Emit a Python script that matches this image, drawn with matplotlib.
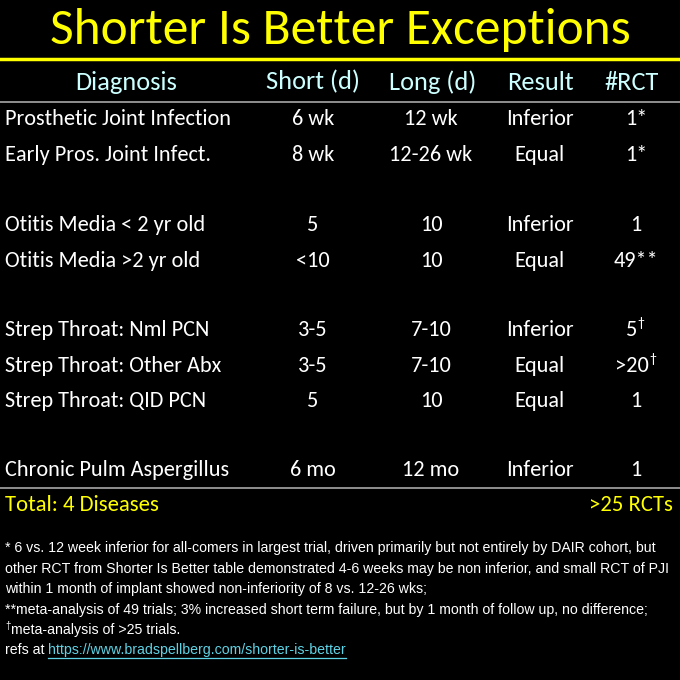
import matplotlib
matplotlib.use("Agg")
import matplotlib.pyplot as plt
from matplotlib import font_manager as fm

title = "Shorter Is Better Exceptions"
headers = ["Diagnosis", "Short (d)", "Long (d)", "Result", "#RCT"]
diagnoses = ["Prosthetic Joint Infection", "Early Pros. Joint Infect.", "",
             "Otitis Media < 2 yr old", "Otitis Media >2 yr old", "",
             "Strep Throat: Nml PCN", "Strep Throat: Other Abx", "Strep Throat: QID PCN", "",
             "Chronic Pulm Aspergillus"]
short_d = ["6 wk", "8 wk", "", "5", "<10", "", "3-5", "3-5", "5", "", "6 mo"]
long_d = ["12 wk", "12-26 wk", "", "10", "10", "", "7-10", "7-10", "10", "", "12 mo"]
result = ["Inferior", "Equal", "", "Inferior", "Equal", "", "Inferior", "Equal", "Equal", "", "Inferior"]
rct = ["1*", "1*", "", "1", "49**", "", "5", ">20", "1", "", "1"]
rct_sup = ["", "", "", "", "", "", "†", "†", "", "", ""]
total_left = "Total: 4 Diseases"
total_right = ">25 RCTs"
footnotes = [
    ("", "* 6 vs. 12 week inferior for all-comers in largest trial, driven primarily but not entirely by DAIR cohort, but"),
    ("", "other RCT from Shorter Is Better table demonstrated 4-6 weeks may be non inferior, and small RCT of PJI"),
    ("", "within 1 month of implant showed non-inferiority of 8 vs. 12-26 wks;"),
    ("", "**meta-analysis of 49 trials; 3% increased short term failure, but by 1 month of follow up, no difference;"),
    ("†", "meta-analysis of >25 trials."),
]
refs_prefix = "refs at "
refs_link = "https://www.bradspellberg.com/shorter-is-better"

avail = {f.name for f in fm.fontManager.ttflist}
def pick(*names):
    for n in names:
        if n in avail:
            return n
    return "DejaVu Sans"
MAIN = pick("Carlito", "Lato", "Open Sans")
NARROW = pick("Liberation Sans Narrow", "DejaVu Sans Condensed", "Liberation Sans")

W = H = 680
fig = plt.figure(figsize=(6.8, 6.8), dpi=100, facecolor="black")
ax = fig.add_axes([0, 0, 1, 1])
ax.set_xlim(0, W)
ax.set_ylim(H, 0)
ax.axis("off")
ax.set_facecolor("black")

YEL = "#FFFF00"
CYAN = "#CCFFFF"
GRAY = "#A8A8A8"

ax.text(340, 30, title, color=YEL, fontsize=37, family=MAIN, ha="center", va="center")
ax.plot([0, W], [59, 59], color=YEL, lw=2.5)

col_x = [126, 313, 433, 540, 632]
for x, h in zip(col_x, headers):
    ax.text(x, 82, h, color=CYAN, fontsize=19, family=MAIN, ha="center", va="center")
ax.plot([0, W], [101.5, 101.5], color=GRAY, lw=1.2)

row_x = [313, 431, 540, 636]
row_y = [119, 155, 190, 225, 261, 296, 330, 366, 401, 436, 470]
fs = 16
for i, y in enumerate(row_y):
    if not diagnoses[i]:
        continue
    ax.text(5, y, diagnoses[i], color="white", fontsize=fs, family=MAIN, ha="left", va="center")
    ax.text(row_x[0], y, short_d[i], color="white", fontsize=fs, family=MAIN, ha="center", va="center")
    ax.text(row_x[1], y, long_d[i], color="white", fontsize=fs, family=MAIN, ha="center", va="center")
    ax.text(row_x[2], y, result[i], color="white", fontsize=fs, family=MAIN, ha="center", va="center")
    if rct_sup[i]:
        t = ax.text(row_x[3] - 4, y, rct[i], color="white", fontsize=fs, family=MAIN, ha="center", va="center")
        fig.canvas.draw()
        bb = t.get_window_extent()
        ax.text(bb.x1, y - 7, rct_sup[i], color="white", fontsize=10, family=MAIN, ha="left", va="center")
    else:
        ax.text(row_x[3], y, rct[i], color="white", fontsize=fs, family=MAIN, ha="center", va="center")

ax.plot([0, W], [487.5, 487.5], color=GRAY, lw=1.2)
ax.text(5, 505, total_left, color=YEL, fontsize=16.4, family=MAIN, ha="left", va="center")
ax.text(673, 505, total_right, color=YEL, fontsize=16.4, family=MAIN, ha="right", va="center")

fy = [548, 569, 589, 610, 630]
ffs = 10.15
for (sup, txt), y in zip(footnotes, fy):
    x0 = 5
    if sup:
        s = ax.text(x0, y - 4, sup, color="white", fontsize=7, family=NARROW, ha="left", va="center")
        fig.canvas.draw()
        x0 = s.get_window_extent().x1 + 0.5
    ax.text(x0, y, txt, color="white", fontsize=ffs, family=NARROW, ha="left", va="center")

y = 650
p = ax.text(5, y, refs_prefix, color="white", fontsize=ffs, family=NARROW, ha="left", va="center")
fig.canvas.draw()
x0 = p.get_window_extent().x1
lk = ax.text(x0, y, refs_link, color="#5ED3E6", fontsize=ffs, family=NARROW, ha="left", va="center")
fig.canvas.draw()
bb = lk.get_window_extent()
ax.plot([bb.x0, bb.x1], [y + 8, y + 8], color="#5ED3E6", lw=0.9)

fig.savefig("out.png", dpi=100, facecolor="black")
